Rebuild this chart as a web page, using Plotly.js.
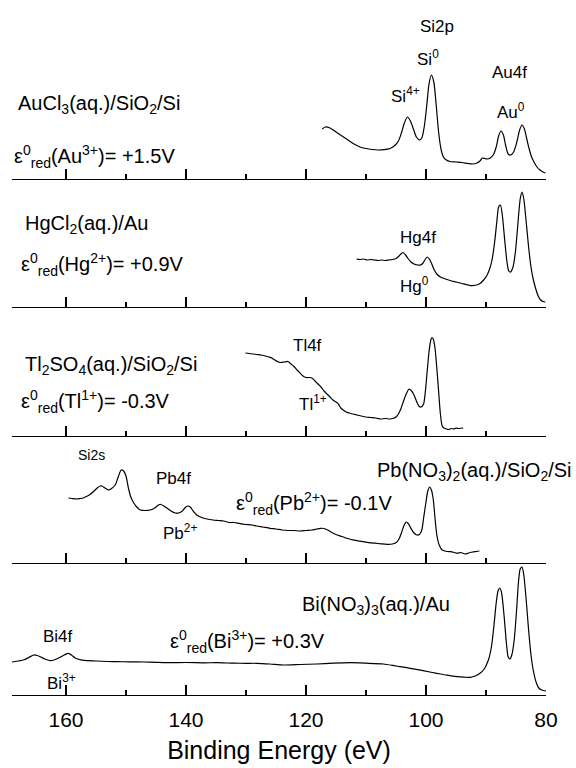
<!DOCTYPE html>
<html>
<head>
<meta charset="utf-8">
<script src="https://cdn.plot.ly/plotly-3.0.1.min.js"></script>
<style>html,body{margin:0;padding:0;background:#fff;}#chart{width:576px;height:768px;}</style>
</head>
<body>
<div id="chart"></div>
<script>
// ---------- DATA (binding energy in eV, intensity in arbitrary units) ----------
const E_Au = [117.3,116.8,116.0,115.0,114.0,113.0,112.0,111.0,110.0,109.0,108.0,107.0,106.0,105.2,104.6,104.1,103.6,103.1,102.6,102.1,101.6,101.1,100.7,100.3,99.9,99.5,99.1,98.7,98.3,97.9,97.5,97.1,96.6,96.0,95.0,94.0,93.0,92.2,91.5,91.0,90.6,90.2,89.8,89.3,88.8,88.3,87.9,87.5,87.1,86.7,86.3,85.9,85.4,84.9,84.4,84.0,83.6,83.2,82.8,82.4,82.0,81.5,81.0,80.5,80.1];
const I_Au = [50,52,51,47,43,39,35,32,30.5,29.5,29,29.3,30.5,33.5,38,46,56,62,58,50,42,39,41,52,72,95,104,97,74,47,30,22,19,17.5,17,16.5,15.5,15,16,18,21,20.5,20,21,24,32,43,48,44,33,25,24,27,36,49,54,50,40,30,22,17,12,9,7,6];

const E_Hg = [111.6,111.0,110.4,109.8,109.2,108.6,108.0,107.4,106.8,106.2,105.6,105.0,104.5,104.1,103.8,103.4,103.0,102.5,102.0,101.4,100.9,100.5,100.1,99.8,99.5,99.1,98.7,98.2,97.6,97.0,96.0,95.0,94.0,93.0,92.3,91.6,91.0,90.4,89.9,89.4,89.0,88.6,88.2,87.9,87.6,87.3,86.9,86.5,86.2,85.9,85.5,85.1,84.7,84.3,84.0,83.7,83.3,82.9,82.5,82.1,81.7,81.3,80.9,80.5,80.1];
const I_Hg = [48,47.5,48,47,47.5,47,46.5,47,46.5,47,47.5,48.5,51,53.5,54.5,52,48.5,45,43,42,42,44,48,50,48.5,44,38,33,30,28.5,26.5,25,23.5,22,21.3,22,23.5,27,31,38,47,63,85,100,102,93,68,45,36,35,40,55,82,108,115,108,85,60,40,27,18,11,7,5.5,5];

const E_Tl = [130.1,129.5,128.8,128.2,127.5,126.8,126.2,125.7,125.2,124.6,124.2,123.6,123.0,122.5,122.0,121.5,121.0,120.5,120.0,119.4,119.0,118.5,118.0,117.5,117.0,116.5,116.0,115.5,115.0,114.6,114.2,113.8,113.3,112.8,112.2,111.5,110.8,110.0,109.2,108.4,107.6,106.8,106.0,105.4,105.0,104.6,104.2,103.8,103.3,102.8,102.4,102.0,101.6,101.2,100.8,100.4,100.1,99.8,99.5,99.2,99.0,98.8,98.5,98.2,97.9,97.6,97.3,97.0,96.6,96.2,95.8,95.4,95.0,94.5,94.0,93.8];
const I_Tl = [83,82.5,82,81.5,81,80,79,78,76,74,73.5,74,74.5,72,69.5,66,63,60,58.5,58.5,58,55,52,49,45,42,39,36,34,32,28,26,24,23,22,21,20,19,18.5,18,17,17.5,17,17.8,19,22,27,34,42,47,45,41,35,30,29,32,45,65,84,96,98.5,97,88,68,45,22,10,8,7,6.5,7.5,7,7.8,7.5,8,7.7];

const E_Pb = [159.6,159.0,158.2,157.6,157.1,156.6,156.0,155.4,154.8,154.3,154.0,153.5,152.9,152.4,151.8,151.3,150.8,150.4,150.0,149.6,149.2,148.7,148.2,147.6,146.8,146.0,145.2,144.6,144.2,143.7,143.2,142.5,141.8,141.2,140.6,140.2,139.7,139.3,138.8,138.2,137.4,136.5,135.5,134.6,133.7,132.8,132.0,131.0,130.0,129.0,128.2,127.2,126.0,125.0,124.0,123.0,122.0,121.0,120.0,119.0,118.2,117.6,117.0,116.4,115.9,115.0,114.0,113.2,112.0,111.0,109.8,108.5,107.5,106.5,105.6,104.9,104.5,104.1,103.7,103.3,102.9,102.5,102.0,101.5,101.1,100.7,100.4,100.0,99.7,99.4,99.1,98.8,98.5,98.2,97.8,97.3,96.5,95.9,95.3,94.8,94.2,93.5,92.9,92.2,91.6,91.1];
const I_Pb = [65,64.5,64,64.5,65,66.5,68.5,71.5,75,77,77,75,73,74.5,78,86,93,92,87,75,66,60,56,53,52.5,53,55,58,58.5,57,55,52,50,50,52,55,57,56,52,48,45.5,44,43,42.5,42,40.5,40.5,39.3,38.5,38,37,36,34.7,34,33,32.5,32.5,32,32.5,33,34,34.7,34.5,33,31.3,28.5,26.5,24.7,22.8,21.8,20.7,19.8,19.2,18.7,19,20.7,24,30,37,41,39,34.5,30,28,28.5,33,45,61,72,76,73,64,45,28,18,13,11.5,11.3,10.5,9.7,10.5,9,10,11,11.5,12];

const E_Bi = [169.0,168.0,167.1,166.2,165.4,164.8,164.3,163.5,162.6,162.0,161.4,161.0,160.3,159.6,159.0,158.4,157.5,156.5,155.0,153.0,151.5,149.5,147.0,145.0,143.2,140.0,137.0,134.8,132.0,130.0,128.2,126.0,123.7,121.0,118.2,115.5,112.6,110.0,107.1,105.0,102.6,100.5,98.2,96.5,94.8,93.6,92.6,91.8,91.0,90.3,89.6,89.1,88.7,88.3,88.0,87.7,87.4,87.0,86.6,86.3,86.0,85.7,85.3,84.9,84.6,84.3,84.0,83.7,83.3,82.9,82.5,82.1,81.6,81.2,80.7,80.0];
const I_Bi = [33,34,35,37.5,40,39.5,38.3,36,34.3,35,36.5,37.7,40,41.7,39.5,36.7,35.2,34.3,34,33.5,33.3,33.2,33,32.6,32.3,32.5,32.2,32.3,31.8,31.7,31.7,31,30,30.5,31,31.8,32.3,31.8,31,29,26.7,24.3,21.7,19.8,18.3,17.8,17.7,19,21.7,26,35,48,68,92,104,107,102,80,52,38,36,40,55,85,112,126,128,120,95,65,40,24,12,7,5,4];

const seriesE = [E_Au, E_Hg, E_Tl, E_Pb, E_Bi];
const seriesI = [I_Au, I_Hg, I_Tl, I_Pb, I_Bi];

const tickVals = [160, 140, 120, 100, 80];
const tickText = ['160', '140', '120', '100', '80'];
const xTitle = 'Binding Energy (eV)';

const sampleLabels = [
  'AuCl<sub>3</sub>(aq.)/SiO<sub>2</sub>/Si',
  'HgCl<sub>2</sub>(aq.)/Au',
  'Tl<sub>2</sub>SO<sub>4</sub>(aq.)/SiO<sub>2</sub>/Si',
  'Pb(NO<sub>3</sub>)<sub>2</sub>(aq.)/SiO<sub>2</sub>/Si',
  'Bi(NO<sub>3</sub>)<sub>3</sub>(aq.)/Au'
];
const potentialLabels = [
  'ε<sup>0</sup><sub>red</sub>(Au<sup>3+</sup>)= +1.5V',
  'ε<sup>0</sup><sub>red</sub>(Hg<sup>2+</sup>)= +0.9V',
  'ε<sup>0</sup><sub>red</sub>(Tl<sup>1+</sup>)= -0.3V',
  'ε<sup>0</sup><sub>red</sub>(Pb<sup>2+</sup>)= -0.1V',
  'ε<sup>0</sup><sub>red</sub>(Bi<sup>3+</sup>)= +0.3V'
];

// ---------- LAYOUT ----------
const W = 576, Ht = 768;
const M = {l: 12, r: 30, t: 5, b: 73};
const PW = W - M.l - M.r, PH = Ht - M.t - M.b;
const basePx = [179, 307, 436, 563, 695];   // baseline of each panel (page px)
const FONT = 'Liberation Sans, Arial, Helvetica, sans-serif';

const px2x = x => (x - M.l) / PW;
const px2y = y => (Ht - M.b - y) / PH;

const traces = [];
const layout = {
  width: W, height: Ht, margin: M,
  paper_bgcolor: '#fff', plot_bgcolor: 'rgba(0,0,0,0)',
  showlegend: false,
  font: {family: FONT, color: '#000'},
  annotations: []
};

for (let i = 0; i < 5; i++) {
  const n = i === 0 ? '' : String(i + 1);
  const lo = px2y(basePx[i]);
  const hi = i === 0 ? 1 : px2y(basePx[i - 1]);
  traces.push({
    x: seriesE[i], y: seriesI[i], xaxis: 'x' + n, yaxis: 'y' + n,
    type: 'scatter', mode: 'lines',
    line: {color: '#000', width: 1.2, shape: 'spline', smoothing: 0.7},
    hoverinfo: 'skip'
  });
  const last = i === 4;
  layout['xaxis' + n] = {
    anchor: 'y' + n, domain: [0, 1], range: [169, 80],
    showgrid: false, zeroline: false,
    showline: true, linecolor: '#000', linewidth: 1.3,
    ticks: 'inside', ticklen: 10, tickwidth: 1.2, tickcolor: '#000',
    tickmode: 'array', tickvals: tickVals, ticktext: tickText,
    minor: {tickmode: 'linear', tick0: 80, dtick: 10, ticks: 'inside', ticklen: 5, tickwidth: 1.2, tickcolor: '#000'},
    showticklabels: last,
    tickfont: {size: 21, family: FONT, color: '#000'},
    ticklabelstandoff: 5,
    automargin: false
  };
  if (last) {
    layout['xaxis' + n].title = {text: xTitle, font: {size: 25, family: FONT, color: '#000'}, standoff: 12};
  }
  layout['yaxis' + n] = {
    anchor: 'x' + n, domain: [lo, hi], range: [0, (hi - lo) * PH],
    visible: false, fixedrange: true
  };
}

function ann(text, x, y, size, xanchor) {
  layout.annotations.push({
    text: text, xref: 'paper', yref: 'paper', x: px2x(x), y: px2y(y),
    xanchor: xanchor || 'center', yanchor: 'middle', showarrow: false,
    font: {size: size, family: FONT, color: '#000'}
  });
}

// sample names and reduction potentials
const sampleX = [16, 23, 23, 375, 300];
const sampleY = [105, 225, 365, 472, 605];
const potX = [12, 19, 19, 234, 168];
const potY = [156, 264, 402, 503, 641];
for (let i = 0; i < 5; i++) {
  ann(sampleLabels[i], sampleX[i], sampleY[i], 20, 'left');
  ann(potentialLabels[i], potX[i], potY[i], 20, 'left');
}

// peak labels
ann('Si2p', 437, 26, 17);
ann('Si<sup>0</sup>', 428, 58, 17);
ann('Si<sup>4+</sup>', 405, 95, 17);
ann('Au4f', 509, 72, 17);
ann('Au<sup>0</sup>', 511, 111, 17);
ann('Hg4f', 418, 237, 17);
ann('Hg<sup>0</sup>', 414, 285, 17);
ann('Tl4f', 307, 345, 17);
ann('Tl<sup>1+</sup>', 313, 403, 17);
ann('Si2s', 91, 455, 14);
ann('Pb4f', 173, 478, 17);
ann('Pb<sup>2+</sup>', 180, 532, 17);
ann('Bi4f', 58, 636, 17);
ann('Bi<sup>3+</sup>', 61, 682, 17);

Plotly.newPlot('chart', traces, layout, {staticPlot: true, displayModeBar: false});
</script>
</body>
</html>
